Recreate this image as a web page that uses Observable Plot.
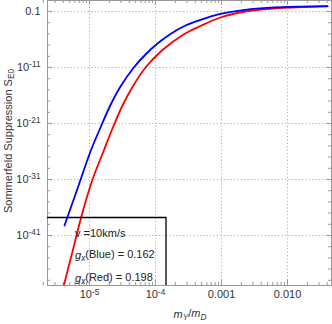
<!DOCTYPE html>
<html><head><meta charset="utf-8">
<script src="https://cdn.jsdelivr.net/npm/d3@7"></script>
<script src="https://cdn.jsdelivr.net/npm/@observablehq/plot@0.6"></script>
<style>body{margin:0;background:#fff;}</style>
</head><body><div id="chart"></div>
<script>
// Data (m_Y/m_D vs Sommerfeld suppression S_E0)
const blueX = [4.18e-6, 6.51e-6, 1.035e-5, 1.468e-5, 2.08e-5, 2.95e-5, 4.69e-5, 7.06e-5, 1.061e-4, 1.688e-4, 2.85e-4, 4.81e-4, 9.66e-4, 2.31e-3, 5.53e-3, 1.574e-2, 4.04e-2];
const blueY = [6.1e-40, 1.64e-33, 1.0e-26, 1.93e-22, 2.01e-18, 4.05e-15, 1.0e-11, 2.1e-9, 1.7e-7, 9.6e-6, 3.16e-4, 3.3e-3, 0.0388, 0.201, 0.477, 0.75, 0.92];
const redX = [4.08e-6, 5.53e-6, 7.75e-6, 1.099e-5, 1.647e-5, 2.23e-5, 3.16e-5, 4.48e-5, 7.06e-5, 1.277e-4, 2.66e-4, 4.81e-4, 9.66e-4, 2.31e-3, 5.53e-3, 1.574e-2, 4.04e-2];
const redY = [1.18e-50, 1.39e-44, 8.5e-38, 6.6e-32, 1.51e-26, 1.28e-22, 1.64e-18, 3.3e-15, 1.0e-11, 1.33e-8, 7.8e-6, 2.58e-4, 8.5e-3, 0.1, 0.303, 0.61, 0.85];

const xMajor = [1e-5, 1e-4, 1e-3, 1e-2];
const xTickLabels = ["10^-5", "10^-4", "0.001", "0.010"];
const yMajor = [1e-1, 1e-11, 1e-21, 1e-31, 1e-41];
const yTickLabels = ["0.1", "10^-11", "10^-21", "10^-31", "10^-41"];

const legendV = "v =10km/s";
const legendSeries = [["Blue", "0.162"], ["Red", "0.198"]];

const xMinor = [];
for (let n = -6; n <= -2; n++) for (let k = 2; k <= 9; k++) xMinor.push(k * Math.pow(10, n));
const yMinor = [];
for (let n = -49; n <= -1; n += 2) yMinor.push(Math.pow(10, n));

const W = 332, H = 324, mL = 47, mR = 1, mT = 0, mB = 39;
const pw = W - mL - mR, ph = H - mT - mB;
const xDom = [2.31e-6, 0.04642], yDom = [1.18e-50, 9.2];
const blue = blueX.map((x, i) => ({x, y: blueY[i]}));
const red = redX.map((x, i) => ({x, y: redY[i]}));
const tc = "#999";
const gridStyle = {stroke: "#b0b0b0", strokeOpacity: 1, strokeDasharray: "1.2,2.2"};

const plot = Plot.plot({
  width: W, height: H,
  marginLeft: mL, marginRight: mR, marginTop: mT, marginBottom: mB,
  style: {fontFamily: "'Liberation Sans', Arial, sans-serif", fontSize: "11px", color: "#333", background: "#fff"},
  x: {type: "log", domain: xDom},
  y: {type: "log", domain: yDom},
  marks: [
    Plot.gridX(xMajor, gridStyle),
    Plot.gridY(yMajor, gridStyle),
    Plot.tickX(xMinor, {x: d => d, stroke: tc, insetTop: ph - 3}),
    Plot.tickX(xMinor, {x: d => d, stroke: tc, insetBottom: ph - 3}),
    Plot.tickX(xMajor, {x: d => d, stroke: tc, insetTop: ph - 5}),
    Plot.tickX(xMajor, {x: d => d, stroke: tc, insetBottom: ph - 5}),
    Plot.tickY(yMinor, {y: d => d, stroke: tc, insetRight: pw - 3}),
    Plot.tickY(yMinor, {y: d => d, stroke: tc, insetLeft: pw - 3}),
    Plot.tickY(yMajor, {y: d => d, stroke: tc, insetRight: pw - 5}),
    Plot.tickY(yMajor, {y: d => d, stroke: tc, insetLeft: pw - 5}),
    Plot.line(red, {x: "x", y: "y", stroke: "#ff0000", strokeWidth: 1.8, curve: "catmull-rom", clip: true}),
    Plot.line(blue, {x: "x", y: "y", stroke: "#0000ff", strokeWidth: 1.8, curve: "catmull-rom", clip: true}),
    Plot.frame({stroke: tc}),
    Plot.axisX(xMajor, {tickSize: 0, tickPadding: 5, tickFormat: d => xTickLabels[xMajor.indexOf(d)], label: null}),
    Plot.axisY(yMajor, {tickSize: 0, tickPadding: 7, tickFormat: d => yTickLabels[yMajor.indexOf(d)], label: null})
  ]
});

const svg = d3.select(plot);
svg.selectAll("text").each(function() {
  const t = this.textContent;
  if (t.includes("^")) {
    const [b, e] = t.split("^");
    const s = d3.select(this);
    s.text(null);
    s.append("tspan").text(b);
    s.append("tspan").attr("dy", "-0.45em").attr("font-size", "0.75em").text(e);
  }
});

const font = "'Liberation Sans', Arial, sans-serif";
// y-axis label
const yl = svg.append("text").attr("transform", "translate(12,141) rotate(-90)")
  .attr("text-anchor", "middle").attr("fill", "#333").attr("font-family", font).attr("font-size", 11);
yl.append("tspan").text("Sommerfeld Suppression S");
yl.append("tspan").attr("dy", "0.3em").attr("font-size", "0.75em").text("E0");

// x-axis label
const xl = svg.append("text").attr("x", 190).attr("y", 318)
  .attr("text-anchor", "middle").attr("fill", "#333").attr("font-family", font).attr("font-size", 11);
xl.append("tspan").attr("font-style", "italic").text("m");
xl.append("tspan").attr("dy", "0.3em").attr("font-size", "0.75em").attr("font-style", "italic").text("Y");
xl.append("tspan").attr("dy", "-0.3em").text("/");
xl.append("tspan").attr("font-style", "italic").text("m");
xl.append("tspan").attr("dy", "0.3em").attr("font-size", "0.75em").attr("font-style", "italic").text("D");

// legend box
const lg = svg.append("g").attr("text-anchor", "start");
lg.append("path").attr("d", "M47,217.5H166V285").attr("fill", "none").attr("stroke", "#000").attr("stroke-width", 1.3);
lg.append("text").attr("x", 75).attr("y", 236.5).attr("text-anchor", "start").attr("fill", "#222").attr("font-family", font).attr("font-size", 11).text(legendV);
legendSeries.forEach(([name, val], i) => {
  const t = lg.append("text").attr("x", 75).attr("y", 259 + i * 22.5).attr("text-anchor", "start").attr("fill", "#222").attr("font-family", font).attr("font-size", 11);
  t.append("tspan").attr("font-style", "italic").text("g");
  t.append("tspan").attr("dy", "0.3em").attr("font-size", "0.75em").attr("font-style", "italic").text("x");
  t.append("tspan").attr("dy", "-0.3em").text("(" + name + ") = " + val);
});

document.getElementById("chart").appendChild(plot);
</script>
</body></html>
